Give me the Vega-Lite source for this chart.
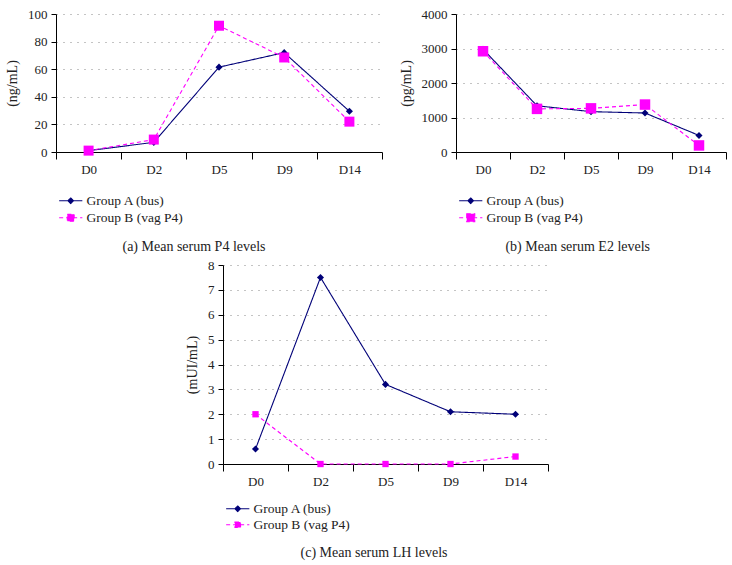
{
  "$schema": "https://vega.github.io/schema/vega-lite/v6.json",
  "background": "white",
  "padding": {"left": 5, "top": 8, "right": 5, "bottom": 5},
  "datasets": {
    "p4": [
      {"day": "D0", "group": "Group A (bus)", "value": 1},
      {"day": "D2", "group": "Group A (bus)", "value": 7},
      {"day": "D5", "group": "Group A (bus)", "value": 61.5},
      {"day": "D9", "group": "Group A (bus)", "value": 72},
      {"day": "D14", "group": "Group A (bus)", "value": 29.5},
      {"day": "D0", "group": "Group B (vag P4)", "value": 1},
      {"day": "D2", "group": "Group B (vag P4)", "value": 9},
      {"day": "D5", "group": "Group B (vag P4)", "value": 91.5},
      {"day": "D9", "group": "Group B (vag P4)", "value": 68.5},
      {"day": "D14", "group": "Group B (vag P4)", "value": 22}
    ],
    "e2": [
      {"day": "D0", "group": "Group A (bus)", "value": 2980},
      {"day": "D2", "group": "Group A (bus)", "value": 1340},
      {"day": "D5", "group": "Group A (bus)", "value": 1170},
      {"day": "D9", "group": "Group A (bus)", "value": 1130},
      {"day": "D14", "group": "Group A (bus)", "value": 480},
      {"day": "D0", "group": "Group B (vag P4)", "value": 2920},
      {"day": "D2", "group": "Group B (vag P4)", "value": 1250},
      {"day": "D5", "group": "Group B (vag P4)", "value": 1265},
      {"day": "D9", "group": "Group B (vag P4)", "value": 1375},
      {"day": "D14", "group": "Group B (vag P4)", "value": 190}
    ],
    "lh": [
      {"day": "D0", "group": "Group A (bus)", "value": 0.6},
      {"day": "D2", "group": "Group A (bus)", "value": 7.5},
      {"day": "D5", "group": "Group A (bus)", "value": 3.2},
      {"day": "D9", "group": "Group A (bus)", "value": 2.1},
      {"day": "D14", "group": "Group A (bus)", "value": 2.0},
      {"day": "D0", "group": "Group B (vag P4)", "value": 2.0},
      {"day": "D2", "group": "Group B (vag P4)", "value": 0},
      {"day": "D5", "group": "Group B (vag P4)", "value": 0},
      {"day": "D9", "group": "Group B (vag P4)", "value": 0},
      {"day": "D14", "group": "Group B (vag P4)", "value": 0.3}
    ],
    "none": []
  },
  "vconcat": [
    {
      "hconcat": [
        {
          "width": 326,
          "height": 138,
          "data": {"name": "p4"},
          "title": {"text": "(a)  Mean serum P4 levels", "orient": "bottom", "frame": "bounds", "anchor": "middle", "offset": 15},
          "encoding": {
            "x": {"field": "day", "type": "ordinal", "sort": ["D0", "D2", "D5", "D9", "D14"], "bandPosition": 0.5, "scale": {"type": "band", "paddingInner": 0, "paddingOuter": 0}},
            "y": {"field": "value", "type": "quantitative", "title": "(ng/mL)", "scale": {"domain": [0, 100]}, "axis": {"values": [0, 20, 40, 60, 80, 100], "format": "d"}}
          },
          "layer": [
            {"mark": {"type": "line", "strokeWidth": 1.1},
             "encoding": {
               "color": {"field": "group", "type": "nominal", "scale": {"domain": ["Group A (bus)", "Group B (vag P4)"], "range": ["#000078", "#ff00ff"]},
                 "legend": {"orient": "bottom", "direction": "vertical", "title": null, "rowPadding": 2,
                   "encode": {"symbols": {"update": {
                     "shape": {"signal": "datum.value === 'Group A (bus)' ? 'M-2.9,0H2.9M0,-0.7L0.7,0L0,0.7L-0.7,0Z' : 'M-2.9,0H2.9M-0.85,-0.85H0.85V0.85H-0.85Z'"},
                     "fill": {"signal": "datum.value === 'Group A (bus)' ? '#000078' : '#ff00ff'"},
                     "stroke": {"signal": "datum.value === 'Group A (bus)' ? '#000078' : '#ff00ff'"},
                     "strokeDash": {"signal": "datum.value === 'Group A (bus)' ? [1,0] : [4,3]"},
                     "strokeWidth": {"value": 1.1}, "opacity": {"value": 1}}}}}},
               "strokeDash": {"field": "group", "type": "nominal", "scale": {"domain": ["Group A (bus)", "Group B (vag P4)"], "range": [[1, 0], [4, 3]]}, "legend": null}}},
            {"transform": [{"filter": {"field": "group", "equal": "Group A (bus)"}}],
             "mark": {"type": "point", "shape": "diamond", "filled": true, "opacity": 1, "color": "#000078", "size": 50}},
            {"transform": [{"filter": {"field": "group", "equal": "Group B (vag P4)"}}],
             "mark": {"type": "point", "shape": "square", "filled": true, "opacity": 1, "color": "#ff00ff", "size": 100}}
          ]
        },
        {
          "width": 270,
          "height": 138,
          "data": {"name": "e2"},
          "title": {"text": "(b)  Mean serum E2 levels", "orient": "bottom", "frame": "bounds", "anchor": "middle", "offset": 15, "dx": 15},
          "encoding": {
            "x": {"field": "day", "type": "ordinal", "sort": ["D0", "D2", "D5", "D9", "D14"], "bandPosition": 0.5, "scale": {"type": "band", "paddingInner": 0, "paddingOuter": 0}},
            "y": {"field": "value", "type": "quantitative", "title": "(pg/mL)", "scale": {"domain": [0, 4000]}, "axis": {"values": [0, 1000, 2000, 3000, 4000], "format": "d"}}
          },
          "layer": [
            {"mark": {"type": "line", "strokeWidth": 1.1},
             "encoding": {
               "color": {"field": "group", "type": "nominal", "scale": {"domain": ["Group A (bus)", "Group B (vag P4)"], "range": ["#000078", "#ff00ff"]},
                 "legend": {"orient": "bottom", "direction": "vertical", "title": null, "rowPadding": 2,
                   "encode": {"symbols": {"update": {
                     "shape": {"signal": "datum.value === 'Group A (bus)' ? 'M-2.9,0H2.9M0,-0.7L0.7,0L0,0.7L-0.7,0Z' : 'M-2.9,0H2.9M-1,-1H1V1H-1Z'"},
                     "fill": {"signal": "datum.value === 'Group A (bus)' ? '#000078' : '#ff00ff'"},
                     "stroke": {"signal": "datum.value === 'Group A (bus)' ? '#000078' : '#ff00ff'"},
                     "strokeDash": {"signal": "datum.value === 'Group A (bus)' ? [1,0] : [4,3]"},
                     "strokeWidth": {"value": 1.1}, "opacity": {"value": 1}}}}}},
               "strokeDash": {"field": "group", "type": "nominal", "scale": {"domain": ["Group A (bus)", "Group B (vag P4)"], "range": [[1, 0], [4, 3]]}, "legend": null}}},
            {"transform": [{"filter": {"field": "group", "equal": "Group A (bus)"}}],
             "mark": {"type": "point", "shape": "diamond", "filled": true, "opacity": 1, "color": "#000078", "size": 50}},
            {"transform": [{"filter": {"field": "group", "equal": "Group B (vag P4)"}}],
             "mark": {"type": "point", "shape": "square", "filled": true, "opacity": 1, "color": "#ff00ff", "size": 110}}
          ]
        }
      ],
      "spacing": 16,
      "resolve": {"scale": {"color": "independent", "strokeDash": "independent"}, "legend": {"color": "independent"}}
    },
    {
      "hconcat": [
        {"width": 121, "height": 10, "data": {"name": "none"}, "mark": "point", "encoding": {}},
        {
          "width": 325,
          "height": 199,
          "data": {"name": "lh"},
          "title": {"text": "(c)  Mean serum LH levels", "orient": "bottom", "frame": "bounds", "anchor": "middle", "offset": 14, "dx": 7},
          "encoding": {
            "x": {"field": "day", "type": "ordinal", "sort": ["D0", "D2", "D5", "D9", "D14"], "bandPosition": 0.5, "scale": {"type": "band", "paddingInner": 0, "paddingOuter": 0}},
            "y": {"field": "value", "type": "quantitative", "title": "(mUI/mL)", "scale": {"domain": [0, 8]}, "axis": {"values": [0, 1, 2, 3, 4, 5, 6, 7, 8], "format": "d"}}
          },
          "layer": [
            {"mark": {"type": "line", "strokeWidth": 1.1},
             "encoding": {
               "color": {"field": "group", "type": "nominal", "scale": {"domain": ["Group A (bus)", "Group B (vag P4)"], "range": ["#000078", "#ff00ff"]},
                 "legend": {"orient": "bottom", "direction": "vertical", "title": null, "offset": 14, "rowPadding": 1,
                   "encode": {"symbols": {"update": {
                     "shape": {"signal": "datum.value === 'Group A (bus)' ? 'M-2.9,0H2.9M0,-0.7L0.7,0L0,0.7L-0.7,0Z' : 'M-2.9,0H2.9M-0.7,-0.7H0.7V0.7H-0.7Z'"},
                     "fill": {"signal": "datum.value === 'Group A (bus)' ? '#000078' : '#ff00ff'"},
                     "stroke": {"signal": "datum.value === 'Group A (bus)' ? '#000078' : '#ff00ff'"},
                     "strokeDash": {"signal": "datum.value === 'Group A (bus)' ? [1,0] : [4,3]"},
                     "strokeWidth": {"value": 1.1}, "opacity": {"value": 1}}}}}},
               "strokeDash": {"field": "group", "type": "nominal", "scale": {"domain": ["Group A (bus)", "Group B (vag P4)"], "range": [[1, 0], [4, 3]]}, "legend": null}}},
            {"transform": [{"filter": {"field": "group", "equal": "Group A (bus)"}}],
             "mark": {"type": "point", "shape": "diamond", "filled": true, "opacity": 1, "color": "#000078", "size": 50}},
            {"transform": [{"filter": {"field": "group", "equal": "Group B (vag P4)"}}],
             "mark": {"type": "point", "shape": "square", "filled": true, "opacity": 1, "color": "#ff00ff", "size": 40}}
          ]
        }
      ],
      "spacing": 8,
      "resolve": {"scale": {"color": "independent", "strokeDash": "independent"}, "legend": {"color": "independent"}}
    }
  ],
  "spacing": 5,
  "resolve": {"scale": {"color": "independent", "strokeDash": "independent"}, "legend": {"color": "independent"}},
  "config": {
    "font": "Liberation Serif, DejaVu Serif, serif",
    "view": {"stroke": null},
    "title": {"font": "Liberation Serif, DejaVu Serif, serif", "fontSize": 14, "fontWeight": "normal", "color": "#222", "offset": 12},
    "axis": {
      "labelFont": "Liberation Serif, DejaVu Serif, serif", "labelFontSize": 13, "labelColor": "#222",
      "titleFont": "Liberation Serif, DejaVu Serif, serif", "titleFontSize": 14, "titleFontWeight": "normal", "titleColor": "#222",
      "domainColor": "#000", "domainWidth": 1, "tickColor": "#000", "tickWidth": 1
    },
    "axisY": {"grid": true, "gridDash": [1, 6], "gridColor": "#888", "gridWidth": 1, "tickSize": 5, "labelPadding": 4, "titlePadding": 8},
    "axisX": {"grid": false, "tickBand": "extent", "labelAngle": 0, "tickSize": 7, "labelPadding": 4, "title": null},
    "legend": {
      "labelFont": "Liberation Serif, DejaVu Serif, serif", "labelFontSize": 13.5, "labelColor": "#222", "rowPadding": 3, "offset": 18,
      "symbolSize": 64, "symbolOffset": 8, "labelOffset": 9,
      "layout": {"bottom": {"anchor": "start"}}
    }
  }
}
